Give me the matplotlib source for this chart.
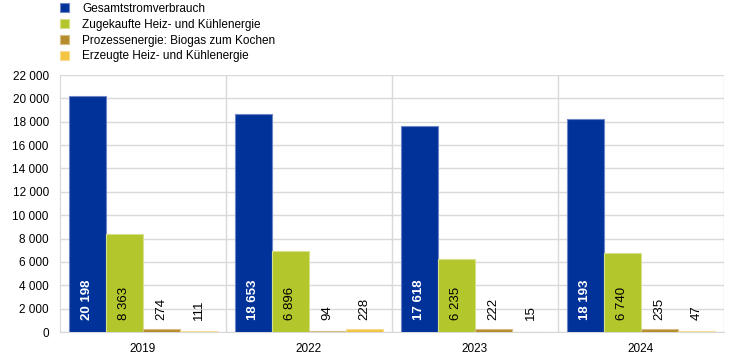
import matplotlib
matplotlib.use("Agg")
import matplotlib.pyplot as plt
import numpy as np
from matplotlib.patches import Patch

plt.rcParams['font.family'] = ['Liberation Sans', 'DejaVu Sans']

years = ['2019', '2022', '2023', '2024']
series = ['Gesamtstromverbrauch',
          'Zugekaufte Heiz- und Kühlenergie',
          'Prozessenergie: Biogas zum Kochen',
          'Erzeugte Heiz- und Kühlenergie']
strom = [20198, 18653, 17618, 18193]
zugekauft = [8363, 6896, 6235, 6740]
biogas = [274, 94, 222, 235]
erzeugt = [111, 228, 15, 47]

colors = ['#003299', '#b3c62b', '#b58b2b', '#f3c440']
edges = ['#6f86c4', '#d8e08c', '#d6bd86', '#f7dc93']

def fmt(v):
    return f'{v:,}'.replace(',', ' ')

fig = plt.figure(figsize=(7.44, 3.58), dpi=100)
ax = fig.add_axes([0.0806, 0.0726, 0.8924, 0.7179])

data = [strom, zugekauft, biogas, erzeugt]
x = np.arange(len(years))
w = 0.223
for i, vals in enumerate(data):
    pos = x - 1.5 * w + i * w
    ax.bar(pos, vals, width=w, color=colors[i], edgecolor=edges[i], linewidth=0.8, zorder=3)
    for p, v in zip(pos, vals):
        if i == 0:
            ax.text(p, 1000, fmt(v), rotation=90, ha='center', va='bottom',
                    color='white', fontsize=9.5, fontweight='bold', zorder=4)
        else:
            ax.text(p, 1000, fmt(v), rotation=90, ha='center', va='bottom',
                    color='black', fontsize=9.5, zorder=4)

ax.set_xlim(-0.5, len(years) - 0.5)
ax.set_ylim(0, 22000)
ax.set_yticks(np.arange(0, 22001, 2000))
ax.set_yticklabels([fmt(v) for v in range(0, 22001, 2000)], fontsize=8.5)
ax.set_xticks(x)
ax.set_xticklabels(years, fontsize=8.5)
ax.tick_params(length=0)
ax.tick_params(axis='x', pad=8)
ax.tick_params(axis='y', pad=8)

ax.grid(axis='y', color='#d9d9d9', linewidth=1, zorder=0)
for b in np.arange(0.5, len(years) - 0.5, 1):
    ax.axvline(b, color='#d9d9d9', linewidth=1, zorder=0)
for s in ['top', 'right']:
    ax.spines[s].set_visible(False)
ax.spines['left'].set_color('#d9d9d9')
ax.spines['bottom'].set_color('#d9d9d9')
ax.axvline(len(years) - 0.5, color='#d9d9d9', linewidth=1, zorder=0)

handles = [Patch(facecolor=c, edgecolor=e, linewidth=0.8) for c, e in zip(colors, edges)]
fig.legend(handles, series, loc='upper left', bbox_to_anchor=(0.066, 1.022),
           frameon=False, fontsize=8.5, handlelength=0.8, handleheight=0.8,
           handletextpad=1.1, labelspacing=0.33)

fig.savefig('out.png', dpi=100)
